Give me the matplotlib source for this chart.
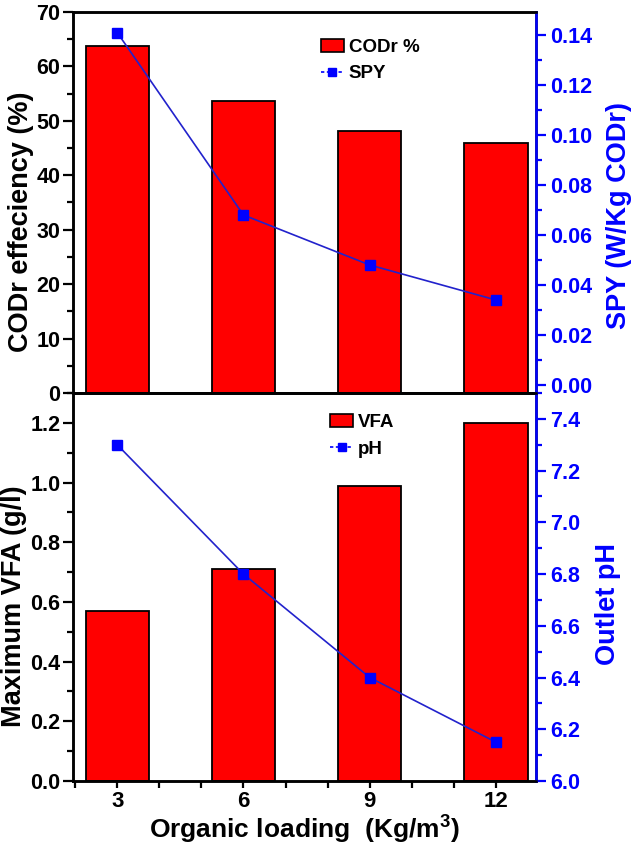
import matplotlib
matplotlib.use('Agg')
import matplotlib.pyplot as plt
from matplotlib.lines import Line2D
from matplotlib.patches import Patch
from matplotlib.ticker import MultipleLocator, FixedLocator, FormatStrFormatter

plt.rcParams['font.family'] = ['Liberation Sans', 'DejaVu Sans']
plt.rcParams['font.weight'] = 'bold'
plt.rcParams['mathtext.fontset'] = 'custom'
plt.rcParams['mathtext.rm'] = 'Liberation Sans:bold'
plt.rcParams['mathtext.bf'] = 'Liberation Sans:bold'

# data
loading = [3, 6, 9, 12]
codr = [63.7, 53.7, 48.2, 46.0]
spy = [0.141, 0.068, 0.048, 0.034]
vfa = [0.57, 0.71, 0.99, 1.20]
ph = [7.30, 6.80, 6.40, 6.15]

BLUE = '#0000ff'
LINE = '#2222cc'
RED = '#ff0000'
W, H = 638, 847
fig = plt.figure(figsize=(W / 100, H / 100), dpi=100)

left, right = 73 / W, 536 / W
ax1 = fig.add_axes([left, 1 - 393 / H, right - left, (393 - 12) / H])
ax3 = fig.add_axes([left, 1 - 781 / H, right - left, (781 - 393) / H])
ax2 = ax1.twinx()
ax4 = ax3.twinx()

ytick_fs = 15.5
xtick_fs = 16
lab_fs = 19.5
leg_fs = 13.5


def style_left(ax):
    for s in ax.spines.values():
        s.set_linewidth(1.8)
    ax.tick_params(axis='y', which='major', direction='out', length=7, width=1.6,
                   labelsize=ytick_fs, pad=2)
    ax.tick_params(axis='y', which='minor', direction='out', length=4, width=1.6)
    for t in ax.get_yticklabels():
        t.set_fontweight('bold')


def style_right(ax):
    for s in ax.spines.values():
        s.set_linewidth(1.8)
    ax.spines['right'].set_color(BLUE)
    ax.tick_params(axis='y', which='major', direction='out', length=7, width=1.6, colors=BLUE,
                   labelsize=ytick_fs, pad=3)
    ax.tick_params(axis='y', which='minor', direction='out', length=4, width=1.6, colors=BLUE)
    ax.yaxis.label.set_color(BLUE)
    for t in ax.get_yticklabels():
        t.set_fontweight('bold')
        t.set_color(BLUE)


def legend_handles():
    return [Patch(facecolor=RED, edgecolor='black', linewidth=1.2),
            Line2D([], [], color=BLUE, linestyle=(0, (2, 1.5)), linewidth=1.2, marker='s',
                   markersize=6, markerfacecolor=BLUE, markeredgecolor=BLUE)]


# --- top panel: CODr efficiency + SPY ---
ax1.bar(loading, codr, width=1.5, color=RED, edgecolor='black', linewidth=1.3)
ax1.set_xlim(1.95, 12.95)
ax1.set_ylim(0, 70)
ax1.yaxis.set_major_locator(MultipleLocator(10))
ax1.yaxis.set_minor_locator(MultipleLocator(5))
ax1.set_xticks([])
ax1.set_ylabel('CODr effeciency (%)', fontsize=lab_fs, fontweight='bold')
ax1.yaxis.set_label_coords(-0.084, 0.45)
style_left(ax1)

ax2.plot(loading, spy, color=LINE, linewidth=1.2, marker='s', markersize=7,
         markerfacecolor=BLUE, markeredgecolor=BLUE)
ax2.set_ylim(-0.0032, 0.1492)
ax2.yaxis.set_major_locator(FixedLocator([0.0, 0.02, 0.04, 0.06, 0.08, 0.10, 0.12, 0.14]))
ax2.yaxis.set_minor_locator(MultipleLocator(0.01))
ax2.yaxis.set_major_formatter(FormatStrFormatter('%.2f'))
ax2.set_ylabel('SPY (W/Kg CODr)', fontsize=lab_fs, fontweight='bold')
ax2.yaxis.set_label_coords(1.152, 0.465)
style_right(ax2)

ax2.legend(legend_handles(), ['CODr %', 'SPY'], loc='upper left', bbox_to_anchor=(0.535, 0.93),
           frameon=False, borderaxespad=0, borderpad=0,
           handlelength=1.25, handleheight=0.7, handletextpad=0.25, labelspacing=0.5,
           prop={'weight': 'bold', 'size': leg_fs})

# --- bottom panel: VFA + pH ---
ax3.bar(loading, vfa, width=1.5, color=RED, edgecolor='black', linewidth=1.3)
ax3.set_xlim(1.95, 12.95)
ax3.set_ylim(0, 1.3)
ax3.yaxis.set_major_locator(FixedLocator([0.0, 0.2, 0.4, 0.6, 0.8, 1.0, 1.2]))
ax3.yaxis.set_minor_locator(MultipleLocator(0.1))
ax3.yaxis.set_major_formatter(FormatStrFormatter('%.1f'))
ax3.set_xticks(loading)
ax3.xaxis.set_minor_locator(FixedLocator([2, 4, 5, 7, 8, 10, 11]))
ax3.tick_params(axis='x', which='major', direction='out', length=5, width=1.6,
                labelsize=xtick_fs, pad=2)
ax3.tick_params(axis='x', which='minor', direction='out', length=5, width=1.6)
ax3.set_ylabel('Maximum VFA (g/l)', fontsize=lab_fs, fontweight='bold')
ax3.yaxis.set_label_coords(-0.1, 0.45)
ax3.set_xlabel(r'Organic loading  (Kg/m$^{3}$)', fontsize=19, fontweight='bold', labelpad=0)
style_left(ax3)
for t in ax3.get_xticklabels():
    t.set_fontweight('bold')

ax4.plot(loading, ph, color=LINE, linewidth=1.2, marker='s', markersize=7,
         markerfacecolor=BLUE, markeredgecolor=BLUE)
ax4.set_ylim(6.0, 7.5)
ax4.yaxis.set_major_locator(FixedLocator([6.0, 6.2, 6.4, 6.6, 6.8, 7.0, 7.2, 7.4]))
ax4.yaxis.set_minor_locator(MultipleLocator(0.1))
ax4.yaxis.set_major_formatter(FormatStrFormatter('%.1f'))
ax4.set_ylabel('Outlet pH', fontsize=lab_fs, fontweight='bold')
ax4.yaxis.set_label_coords(1.128, 0.457)
style_right(ax4)

ax4.legend(legend_handles(), ['VFA', 'pH'], loc='upper left', bbox_to_anchor=(0.555, 0.945),
           frameon=False, borderaxespad=0, borderpad=0,
           handlelength=1.25, handleheight=0.7, handletextpad=0.25, labelspacing=0.5,
           prop={'weight': 'bold', 'size': leg_fs})

fig.savefig('out.png', dpi=100)
